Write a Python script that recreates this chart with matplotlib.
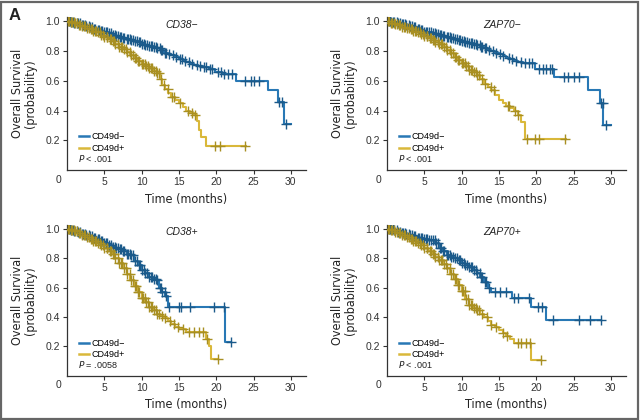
import numpy as np
import matplotlib
matplotlib.use("Agg")
import matplotlib.pyplot as plt
from matplotlib.lines import Line2D
from matplotlib.patches import Rectangle

plt.rcParams["font.family"] = ["Liberation Sans", "DejaVu Sans"]

BLUE = "#2878b5"
BLUE_MK = "#1b5a8a"
GOLD = "#d9b83a"
GOLD_MK = "#a88f22"

panel_titles = ["CD38\u2212", "ZAP70\u2212", "CD38+", "ZAP70+"]
p_values = ["< .001", "< .001", "= .0058", "< .001"]
group_labels = ["CD49d\u2212", "CD49d+"]

# early censoring times (dense region)
early_cens_neg = [0.2, 0.4, 0.6, 0.8, 1.0, 1.3, 1.5, 1.7, 2.0, 2.2, 2.4, 2.6, 2.9, 3.1,
                  3.4, 3.6, 3.8, 4.1, 4.3, 4.5, 4.7, 5.0, 5.2, 5.4, 5.6, 5.9, 6.1, 6.4,
                  6.6, 6.9, 7.1, 7.3, 7.5, 7.7, 8.0, 8.2, 8.4, 8.6, 8.9, 9.1, 9.4, 9.6,
                  9.8, 10.1, 10.3, 10.5, 10.7, 11.0, 11.2, 11.4, 11.6, 11.9, 12.1,
                  12.4, 12.6, 12.8, 13.1, 13.3, 13.7]
early_cens_pos = [0.1, 0.3, 0.5, 0.7, 0.9, 1.1, 1.4, 1.6, 1.8, 2.0, 2.3, 2.4, 2.7, 2.9,
                  3.2, 3.3, 3.5, 3.7, 3.9, 4.1, 4.4, 4.6, 4.8, 5.0, 5.3, 5.4, 5.7, 5.9,
                  6.1, 6.3, 6.5, 6.8, 7.0, 7.2, 7.4, 7.6, 7.9, 8.1, 8.4, 8.6, 8.9, 9.1,
                  9.3, 9.5, 9.7, 10.0, 10.2, 10.4, 10.6, 10.8, 11.0, 11.2, 11.4, 11.7,
                  11.9, 12.1, 12.3]

# CD38-
cd38n_neg_t = [0, 0.5, 1, 1.5, 2, 2.5, 3, 3.5, 4, 4.5, 5, 5.5, 6, 6.5, 7, 7.5, 8, 8.5,
               9, 9.5, 10, 10.5, 11, 11.5, 12, 12.5, 13, 13.5, 14, 14.5, 15, 15.5,
               16, 16.5, 17, 17.5, 18.2, 19.0, 19.8, 20.8, 22.6, 27.0, 28.3, 29.1]
cd38n_neg_s = [1.0, 0.995, 0.99, 0.985, 0.978, 0.97, 0.96, 0.95, 0.94, 0.933, 0.926,
               0.918, 0.91, 0.903, 0.895, 0.888, 0.88, 0.872, 0.865, 0.858, 0.85,
               0.843, 0.835, 0.828, 0.82, 0.805, 0.79, 0.78, 0.77, 0.758, 0.747,
               0.736, 0.725, 0.716, 0.707, 0.70, 0.69, 0.68, 0.66, 0.645, 0.60,
               0.535, 0.46, 0.31]
cd38n_neg_end = 30.0
cd38n_neg_c = early_cens_neg + [14.2, 14.6, 15.1, 15.4, 15.8, 16.3, 16.7, 17.4, 17.8,
                                18.3, 18.6, 19.2, 19.5, 20.3, 20.7, 21.1, 21.6, 22.1,
                                23.9, 24.6, 25.1, 25.8, 28.4, 28.8, 29.3]

cd38n_pos_t = [0, 0.5, 1, 1.5, 2, 2.5, 3, 3.5, 4, 4.5, 5, 5.5, 6, 6.5, 7, 7.5, 8, 8.5,
               9, 9.5, 10, 10.5, 11, 11.5, 12, 12.4, 12.8, 13.2, 13.6, 14, 14.5, 15,
               15.5, 16, 16.5, 17.0, 17.4, 17.7, 18.0, 18.6]
cd38n_pos_s = [1.0, 0.992, 0.985, 0.975, 0.965, 0.955, 0.945, 0.935, 0.925, 0.91, 0.895,
               0.88, 0.865, 0.848, 0.83, 0.815, 0.795, 0.77, 0.75, 0.73, 0.715, 0.70,
               0.685, 0.668, 0.65, 0.61, 0.575, 0.545, 0.515, 0.49, 0.47, 0.45, 0.425,
               0.40, 0.385, 0.37, 0.33, 0.27, 0.22, 0.16]
cd38n_pos_end = 24.0
cd38n_pos_c = early_cens_pos + [12.6, 13.0, 13.5, 14.1, 14.4, 15.2, 16.2, 16.7, 17.2,
                                19.8, 20.5, 23.9]

# ZAP70-
zapn_neg_t = [0, 0.5, 1, 1.5, 2, 2.5, 3, 3.5, 4, 4.5, 5, 5.5, 6, 6.5, 7, 7.5, 8, 8.5,
              9, 9.5, 10, 10.5, 11, 11.5, 12, 12.5, 13, 13.5, 14, 14.5, 15, 15.5, 16,
              16.5, 17, 17.5, 18.2, 19.8, 22.4, 27.0, 28.5, 29.0]
zapn_neg_s = [1.0, 0.996, 0.992, 0.987, 0.98, 0.974, 0.968, 0.961, 0.95, 0.94, 0.93,
              0.925, 0.92, 0.913, 0.907, 0.90, 0.895, 0.888, 0.882, 0.876, 0.87, 0.862,
              0.855, 0.846, 0.838, 0.83, 0.82, 0.81, 0.80, 0.79, 0.78, 0.768, 0.755,
              0.745, 0.735, 0.728, 0.72, 0.68, 0.625, 0.535, 0.45, 0.30]
zapn_neg_end = 30.0
zapn_neg_c = early_cens_neg + [14.2, 14.6, 15.1, 15.5, 16.3, 16.8, 17.3, 17.9, 18.5,
                               19.0, 19.4, 20.4, 20.9, 21.3, 21.8, 22.1, 23.7, 24.3,
                               25.0, 25.8, 28.7, 28.9, 29.3]

zapn_pos_t = [0, 0.5, 1, 1.5, 2, 2.5, 3, 3.5, 4, 4.5, 5, 5.5, 6, 6.5, 7, 7.5, 8, 8.5,
              9, 9.5, 10, 10.5, 11, 11.5, 12, 12.5, 13, 13.5, 14, 14.5, 15, 15.5, 16,
              16.5, 17.0, 17.5, 18.0, 18.5]
zapn_pos_s = [1.0, 0.99, 0.982, 0.972, 0.962, 0.953, 0.945, 0.937, 0.93, 0.915, 0.90,
              0.888, 0.875, 0.862, 0.85, 0.83, 0.81, 0.785, 0.76, 0.74, 0.72, 0.698,
              0.675, 0.658, 0.64, 0.61, 0.58, 0.56, 0.54, 0.505, 0.47, 0.45, 0.43,
              0.415, 0.40, 0.37, 0.32, 0.21]
zapn_pos_end = 24.0
zapn_pos_c = early_cens_pos + [12.7, 13.2, 13.9, 14.3, 16.2, 16.4, 17.2, 17.6, 18.8,
                               19.8, 20.4, 23.9]

# CD38+
cd38p_neg_t = [0, 0.5, 1, 1.5, 2, 2.5, 3, 3.5, 4, 4.5, 5, 5.5, 6, 6.5, 7, 7.5, 8, 8.5,
               9, 9.5, 10, 10.5, 11, 11.5, 12.0, 12.3, 12.8, 13.2, 13.6, 21.2]
cd38p_neg_s = [1.0, 0.992, 0.985, 0.975, 0.965, 0.958, 0.95, 0.94, 0.93, 0.918, 0.905,
               0.89, 0.875, 0.868, 0.86, 0.845, 0.83, 0.82, 0.78, 0.75, 0.72, 0.70,
               0.67, 0.66, 0.65, 0.60, 0.57, 0.54, 0.47, 0.23]
cd38p_neg_end = 22.0
cd38p_neg_c = early_cens_neg + [15.0, 15.3, 16.5, 19.7, 21.0, 22.0]

cd38p_pos_t = [0, 0.5, 1, 1.5, 2, 2.5, 3, 3.5, 4, 4.5, 5, 5.5, 6, 6.5, 7, 7.5, 8, 8.5,
               9, 9.5, 10, 10.5, 11, 11.5, 12, 12.5, 13, 13.5, 14, 14.5, 15, 16, 18.6,
               19.0, 19.3]
cd38p_pos_s = [1.0, 0.99, 0.982, 0.97, 0.96, 0.945, 0.93, 0.918, 0.905, 0.888, 0.87,
               0.85, 0.83, 0.80, 0.77, 0.73, 0.69, 0.65, 0.61, 0.57, 0.53, 0.50, 0.47,
               0.445, 0.42, 0.405, 0.39, 0.37, 0.35, 0.335, 0.32, 0.295, 0.25, 0.20,
               0.115]
cd38p_pos_end = 20.3
cd38p_pos_c = early_cens_pos + [12.7, 13.2, 13.8, 14.3, 14.9, 15.5, 16.4, 17.0, 17.7,
                                18.2, 18.8, 20.3]

# ZAP70+
zapp_neg_t = [0, 0.5, 1, 1.5, 2, 2.5, 3, 3.5, 4, 4.5, 5, 5.5, 6, 6.5, 7, 7.5, 8, 8.5,
              9, 9.5, 10, 10.5, 11, 11.5, 12, 12.5, 13, 13.5, 14, 16.8, 19.3, 21.3]
zapp_neg_s = [1.0, 0.995, 0.99, 0.98, 0.97, 0.962, 0.955, 0.948, 0.94, 0.935, 0.93,
              0.925, 0.92, 0.90, 0.87, 0.845, 0.82, 0.81, 0.80, 0.785, 0.77, 0.755,
              0.74, 0.72, 0.70, 0.67, 0.64, 0.60, 0.57, 0.53, 0.47, 0.38]
zapp_neg_end = 28.7
zapp_neg_c = early_cens_neg + [14.5, 15.2, 15.9, 17.0, 17.5, 19.0, 20.2, 20.8, 22.2,
                               25.8, 27.2, 28.7]

zapp_pos_t = [0, 0.5, 1, 1.5, 2, 2.5, 3, 3.5, 4, 4.5, 5, 5.5, 6, 6.5, 7, 7.5, 8, 8.5,
              9, 9.5, 10, 10.5, 11, 11.5, 12, 12.5, 13, 13.5, 14, 14.5, 15, 15.5, 16,
              16.5, 17, 19.3]
zapp_pos_s = [1.0, 0.99, 0.98, 0.97, 0.96, 0.945, 0.93, 0.918, 0.905, 0.888, 0.87, 0.85,
              0.83, 0.81, 0.79, 0.76, 0.73, 0.695, 0.66, 0.62, 0.58, 0.52, 0.48, 0.46,
              0.445, 0.42, 0.40, 0.37, 0.345, 0.33, 0.31, 0.29, 0.27, 0.25, 0.225, 0.11]
zapp_pos_end = 20.6
zapp_pos_c = early_cens_pos + [12.8, 13.4, 14.0, 14.6, 15.6, 16.1, 17.5, 18.0, 18.6,
                               19.2, 20.6]

panels = [
    ((cd38n_neg_t, cd38n_neg_s, cd38n_neg_end, cd38n_neg_c),
     (cd38n_pos_t, cd38n_pos_s, cd38n_pos_end, cd38n_pos_c)),
    ((zapn_neg_t, zapn_neg_s, zapn_neg_end, zapn_neg_c),
     (zapn_pos_t, zapn_pos_s, zapn_pos_end, zapn_pos_c)),
    ((cd38p_neg_t, cd38p_neg_s, cd38p_neg_end, cd38p_neg_c),
     (cd38p_pos_t, cd38p_pos_s, cd38p_pos_end, cd38p_pos_c)),
    ((zapp_neg_t, zapp_neg_s, zapp_neg_end, zapp_neg_c),
     (zapp_pos_t, zapp_pos_s, zapp_pos_end, zapp_pos_c)),
]

# axes boxes in figure fraction: left, bottom, width, height
boxes = [
    (0.1047, 0.595, 0.373, 0.364),
    (0.6047, 0.595, 0.373, 0.364),
    (0.1047, 0.105, 0.373, 0.360),
    (0.6047, 0.105, 0.373, 0.360),
]


def km_plot(ax, times, surv, end, cens, color, mcolor):
    t = np.array(list(times) + [end])
    s = np.array(list(surv) + [surv[-1]])
    ax.step(t, s, where="post", color=color, lw=1.5, zorder=2)
    c = np.array(cens)
    idx = np.searchsorted(np.array(times), c, side="right") - 1
    cs = np.array(surv)[idx]
    ax.plot(c, cs, ls="none", marker="+", ms=6.5, mew=1.0, color=mcolor, zorder=3)


fig = plt.figure(figsize=(6.4, 4.2), dpi=100)
fig.patches.append(Rectangle((0.002, 0.002), 0.995, 0.994, transform=fig.transFigure,
                             fill=False, ec="#666666", lw=1.6))
fig.text(0.013, 0.962, "A", fontsize=12, fontweight="bold", ha="left", va="center",
         color="#222222")

label_font = {"family": "DejaVu Sans", "stretch": "condensed", "size": 9,
              "color": "#222222"}

for box, title, pv, (neg, pos) in zip(boxes, panel_titles, p_values, panels):
    ax = fig.add_axes(box)
    km_plot(ax, *neg, BLUE, BLUE_MK)
    km_plot(ax, *pos, GOLD, GOLD_MK)

    ax.set_xlim(0, 32)
    ax.set_ylim(0, 1.027)
    ax.set_xticks([5, 10, 15, 20, 25, 30])
    ax.set_yticks([0.2, 0.4, 0.6, 0.8, 1.0])
    ax.set_yticklabels(["0.2", "0.4", "0.6", "0.8", "1.0"])
    for side in ["top", "right"]:
        ax.spines[side].set_visible(False)
    for side in ["left", "bottom"]:
        ax.spines[side].set_color("#333333")
        ax.spines[side].set_linewidth(0.9)
    ax.tick_params(axis="both", direction="out", length=3, width=0.8, pad=2,
                   labelsize=7.5, colors="#333333")
    ax.text(-1.2, -0.03, "0", transform=ax.get_xaxis_transform(), ha="center",
            va="top", fontsize=7.5, color="#333333")

    ax.set_xlabel("Time (months)", labelpad=4, **label_font)
    ax.set_ylabel("Overall Survival\n(probability)", labelpad=6, linespacing=1.0,
                  **label_font)

    ax.text(0.48, 0.95, title, transform=ax.transAxes, ha="center", va="center",
            fontsize=7.5, style="italic", color="#222222")

    handles = [Line2D([], [], color=BLUE, lw=1.8), Line2D([], [], color=GOLD, lw=1.8)]
    ax.legend(handles, group_labels, loc="upper left", bbox_to_anchor=(0.035, 0.27),
              frameon=False, handlelength=1.1, handletextpad=0.3,
              labelspacing=0.25, borderaxespad=0.0, prop={"size": 6.5})
    ax.text(0.045, 0.078, "$P$ " + pv, transform=ax.transAxes, ha="left",
            va="center", fontsize=6.5, color="#222222")

fig.savefig("out.png", dpi=100)
